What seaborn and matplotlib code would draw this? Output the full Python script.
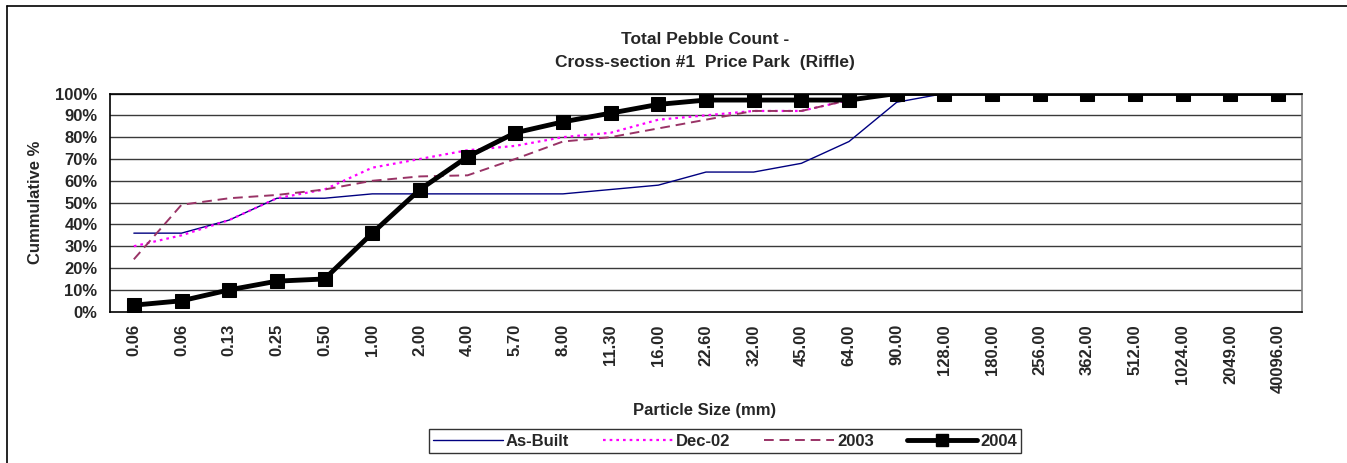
import matplotlib
matplotlib.use("Agg")
import matplotlib.pyplot as plt
import seaborn as sns
import numpy as np
import pandas as pd
from matplotlib.ticker import FixedLocator, PercentFormatter
from matplotlib.lines import Line2D

categories = ["0.06", "0.06", "0.13", "0.25", "0.50", "1.00", "2.00", "4.00", "5.70",
              "8.00", "11.30", "16.00", "22.60", "32.00", "45.00", "64.00", "90.00",
              "128.00", "180.00", "256.00", "362.00", "512.00", "1024.00", "2049.00",
              "40096.00"]

as_built = [36, 36, 42, 52, 52, 54, 54, 54, 54, 54, 56, 58, 64, 64, 68, 78, 96,
            100, 100, 100, 100, 100, 100, 100, 100]
dec_02 = [30, 35, 42, 52, 56, 66, 70, 74, 76, 80, 82, 88, 90, 92, 92, 97, 100,
          100, 100, 100, 100, 100, 100, 100, 100]
y2003 = [24, 49, 52, 53.5, 56, 60, 62, 62.5, 70, 78, 80, 84, 88, 92, 92, 97, 100,
         100, 100, 100, 100, 100, 100, 100, 100]
y2004 = [3, 5, 10, 14, 15, 36, 56, 71, 82, 87, 91, 95, 97, 97, 97, 97, 100,
         100, 100, 100, 100, 100, 100, 100, 100]

series_names = ["As-Built", "Dec-02", "2003", "2004"]

sns.set_theme(style="white")
plt.rcParams["font.family"] = ["Liberation Sans", "DejaVu Sans"]
plt.rcParams["font.weight"] = "bold"

fig = plt.figure(figsize=(13.47, 4.63), dpi=100)
ax = fig.add_axes([110 / 1347, 1 - 311.7 / 463, (1302 - 110) / 1347, (311.7 - 93.5) / 463])

idx = np.arange(len(categories))
df = pd.DataFrame({"pos": idx, "As-Built": as_built, "Dec-02": dec_02,
                   "2003": y2003, "2004": y2004})
for c in series_names:
    df[c] = df[c] / 100.0

# horizontal grid
for g in np.arange(0.1, 1.01, 0.1):
    ax.axhline(g, color="#3a3a3a", lw=1.0, zorder=0)

sns.lineplot(data=df, x="pos", y="As-Built", ax=ax, color="#000080", lw=1.0, zorder=3)
sns.lineplot(data=df, x="pos", y="Dec-02", ax=ax, color="#FF00FF", lw=1.6, zorder=4,
             linestyle=(0, (1.2, 1.8)))
sns.lineplot(data=df, x="pos", y="2003", ax=ax, color="#993366", lw=1.4, zorder=4,
             linestyle=(0, (5, 3)))
sns.lineplot(data=df, x="pos", y="2004", ax=ax, color="black", lw=3.5, zorder=5,
             marker="s", markersize=10, markeredgecolor="black", markerfacecolor="black")

ax.set_xlim(-0.5, len(categories) - 0.5)
ax.set_ylim(0, 1.0)
ax.yaxis.set_major_locator(FixedLocator(np.arange(0, 1.01, 0.1)))
ax.yaxis.set_major_formatter(PercentFormatter(1.0, decimals=0))
ax.set_xticks(idx)
ax.set_xticklabels(categories, rotation=90, fontsize=12, fontweight="bold")
ax.xaxis.set_minor_locator(FixedLocator(np.arange(-0.5, len(categories), 1.0)))
ax.tick_params(axis="x", which="major", length=0, pad=9)
ax.tick_params(axis="x", which="minor", length=5, width=1, color="black", direction="out")
ax.tick_params(axis="y", which="major", length=5, width=1, color="black",
               direction="out", labelsize=12, pad=4)
for lab in ax.get_yticklabels():
    lab.set_fontweight("bold")

for s in ["left", "bottom", "top"]:
    ax.spines[s].set_color("black")
    ax.spines[s].set_linewidth(1.2)
ax.spines["right"].set_color("#808080")
ax.spines["right"].set_linewidth(1.2)

ax.set_xlabel("")
ax.set_ylabel("")

fig.text(35 / 1347, 1 - 202 / 463, "Cummulative %", rotation=90, ha="center",
         va="center", fontsize=12, fontweight="bold")
fig.text(705 / 1347, 1 - 40 / 463, "Total Pebble Count -", ha="center", va="center",
         fontsize=12.5, fontweight="bold")
fig.text(705 / 1347, 1 - 63 / 463, "Cross-section #1  Price Park  (Riffle)",
         ha="center", va="center", fontsize=12.5, fontweight="bold")
fig.text(705 / 1347, 1 - 411 / 463, "Particle Size (mm)", ha="center", va="center",
         fontsize=12, fontweight="bold")

handles = [
    Line2D([], [], color="#000080", lw=1.0),
    Line2D([], [], color="#FF00FF", lw=1.6, linestyle=(0, (1.2, 1.8))),
    Line2D([], [], color="#993366", lw=1.4, linestyle=(0, (5, 3))),
    Line2D([], [], color="black", lw=3.5, marker="s", markersize=9),
]
leg = fig.legend(handles, series_names, loc="center", ncol=4,
                 bbox_to_anchor=(725 / 1347, 1 - 441 / 463),
                 frameon=True, fancybox=False, edgecolor="black",
                 prop={"size": 12, "weight": "bold"},
                 handlelength=4.2, handletextpad=0.2, columnspacing=2.0,
                 borderpad=0.25)
leg.get_frame().set_linewidth(1.0)

# chart-area border (left and top visible)
fig.add_artist(Line2D([7 / 1347, 7 / 1347], [0, 1 - 6 / 463], color="black", lw=1.2,
                      transform=fig.transFigure))
fig.add_artist(Line2D([7 / 1347, 1], [1 - 6 / 463, 1 - 6 / 463], color="black", lw=1.2,
                      transform=fig.transFigure))

fig.savefig("out.png", dpi=100)
